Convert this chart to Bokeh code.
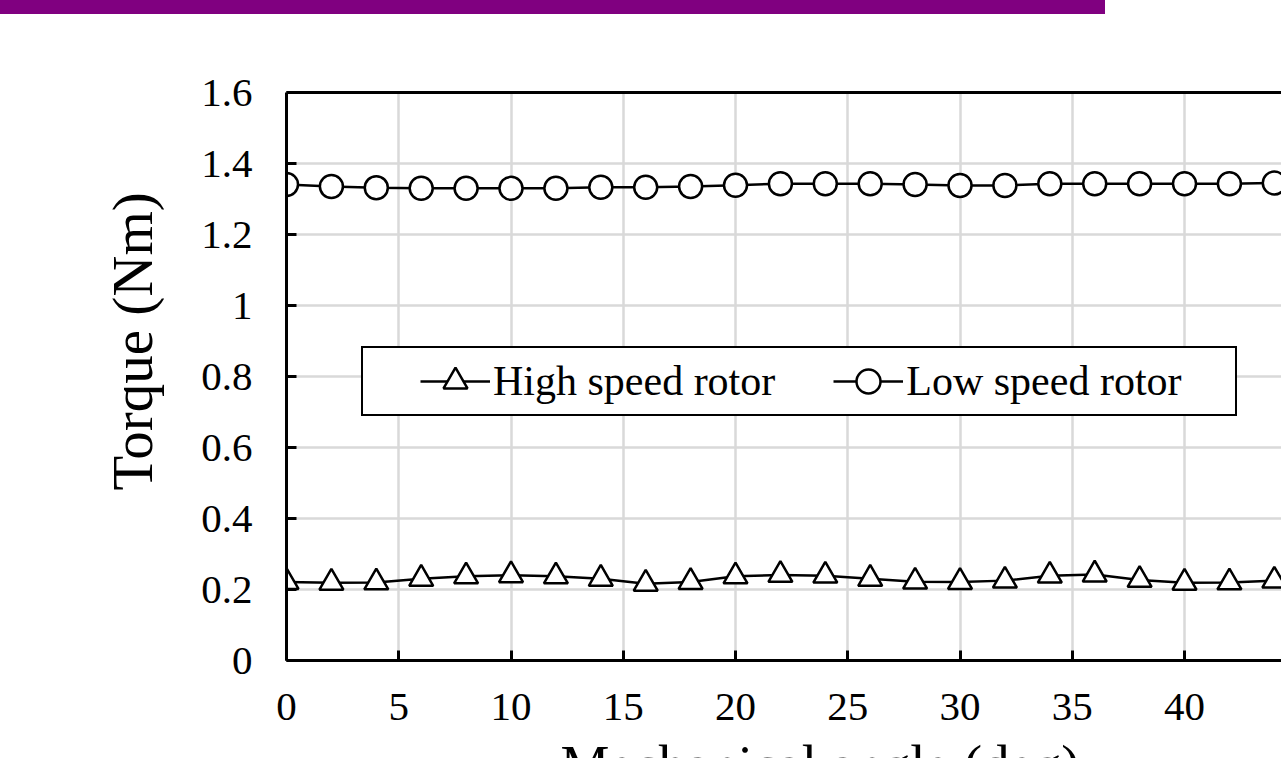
from bokeh.plotting import figure
from bokeh.models import Legend, LegendItem, LinearAxis, Range1d, Div, FixedTicker, Title
from bokeh.layouts import column
from bokeh.embed import file_html
from bokeh.resources import INLINE

# ---- data ----
angle = [0, 2, 4, 6, 8, 10, 12, 14, 16, 18, 20, 22, 24, 26, 28, 30, 32, 34, 36, 38, 40, 42, 44]
high_speed = [0.221, 0.219, 0.220, 0.230, 0.237, 0.240, 0.237, 0.230, 0.216, 0.221, 0.237, 0.241,
              0.239, 0.230, 0.222, 0.221, 0.225, 0.239, 0.242, 0.227, 0.219, 0.220, 0.225]
low_speed = [1.341, 1.335, 1.332, 1.330, 1.330, 1.330, 1.330, 1.333, 1.333, 1.335, 1.339, 1.343,
             1.343, 1.343, 1.341, 1.338, 1.338, 1.343, 1.343, 1.343, 1.343, 1.343, 1.345]
x_ticks = [0, 5, 10, 15, 20, 25, 30, 35, 40, 45]
y_ticks = [0, 0.2, 0.4, 0.6, 0.8, 1, 1.2, 1.4, 1.6]
y_tick_labels = {0: "0", 1: "1"}
series_names = ["High speed rotor", "Low speed rotor"]
x_title = "Mechanical angle (deg)"
y_title = "Torque (Nm)"

FONT = "Liberation Serif"

p = figure(width=1281, height=806, output_backend="svg", toolbar_location=None,
           x_range=Range1d(0, 44.32), y_range=Range1d(0, 1.6),
           min_border_left=286, min_border_right=0, min_border_top=78, min_border_bottom=160,
           outline_line_color=None, background_fill_color="white", border_fill_color="white")

# axes
for ax in (p.xaxis[0], p.yaxis[0]):
    ax.axis_line_width = 3
    ax.axis_line_color = "black"
    ax.major_tick_in = 10
    ax.major_tick_out = 0
    ax.major_tick_line_width = 3
    ax.major_tick_line_color = "black"
    ax.minor_tick_line_color = None
    ax.major_label_text_font = FONT
    ax.major_label_text_font_size = "41px"
    ax.major_label_text_color = "black"

p.xaxis[0].ticker = FixedTicker(ticks=x_ticks)
p.xaxis[0].major_label_standoff = 33
p.yaxis[0].ticker = FixedTicker(ticks=y_ticks)
p.yaxis[0].major_label_overrides = y_tick_labels
p.yaxis[0].major_label_standoff = 34

# top frame line
top_axis = LinearAxis(ticker=FixedTicker(ticks=[]), axis_line_width=3, axis_line_color="black",
                      major_tick_line_color=None, minor_tick_line_color=None)
p.add_layout(top_axis, "above")

# axis titles (as side titles, so they can be placed like the reference)
p.add_layout(Title(text=y_title, align="left", offset=170, standoff=70,
                   text_font=FONT, text_font_size="57px", text_font_style="normal",
                   text_color="black"), "left")
p.add_layout(Title(text=x_title, align="left", offset=274, standoff=18,
                   text_font=FONT, text_font_size="55px", text_font_style="normal",
                   text_color="black"), "below")

# grid
p.xgrid.ticker = FixedTicker(ticks=x_ticks)
p.ygrid.ticker = FixedTicker(ticks=y_ticks)
for g in (p.xgrid[0], p.ygrid[0]):
    g.grid_line_color = "#d9d9d9"
    g.grid_line_width = 2.5

# data
hl = p.line(angle, high_speed, line_color="black", line_width=2.5)
hs = p.scatter(angle, high_speed, marker="triangle", size=24, fill_color="white",
               line_color="black", line_width=2.5)
ll = p.line(angle, low_speed, line_color="black", line_width=2.5)
ls = p.scatter(angle, low_speed, marker="circle", size=23, fill_color="white",
               line_color="black", line_width=2.5)

# legend frame (drawn first, underneath)
dummy = p.line([], [], line_alpha=0)
frame_legend = Legend(items=[LegendItem(label=" ", renderers=[dummy])],
                      location=(75, 244), orientation="horizontal", padding=0, spacing=0,
                      glyph_width=0, glyph_height=66, label_width=872, label_height=66,
                      label_standoff=0, label_text_font_size="1px",
                      border_line_color="black", border_line_alpha=1.0, border_line_width=2.5,
                      background_fill_color="white", background_fill_alpha=1.0, margin=0)
p.add_layout(frame_legend, "center")

legend = Legend(items=[LegendItem(label=series_names[0], renderers=[hl, hs]),
                       LegendItem(label=series_names[1], renderers=[ll, ls])],
                location=(134, 249), orientation="horizontal", padding=0, spacing=58,
                glyph_width=70, glyph_height=60, label_height=60, label_standoff=3,
                label_text_font=FONT, label_text_font_size="42px", label_text_color="black",
                border_line_color=None, background_fill_alpha=0, margin=0)
p.add_layout(legend, "center")

bar = Div(width=1105, height=14, margin=0, styles={"background-color": "#800080"})

layout = column(bar, p, spacing=0)
open("out.html", "w").write(file_html(layout, INLINE))
